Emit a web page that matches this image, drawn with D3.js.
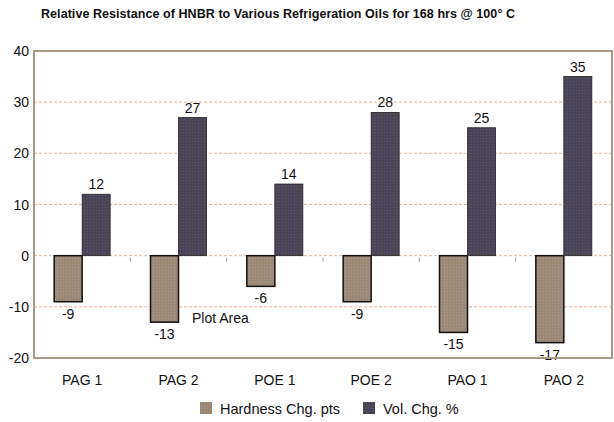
<!DOCTYPE html>
<html>
<head>
<meta charset="utf-8">
<script src="https://cdn.jsdelivr.net/npm/d3@7"></script>
<style>
  body { margin: 0; background: #fff; }
  text { font-family: "Liberation Sans", Arial, sans-serif; fill: #111; }
</style>
</head>
<body>
<div id="viz-wrapper"></div>
<script>
let categories = ["PAG 1", "PAG 2", "POE 1", "POE 2", "PAO 1", "PAO 2"];
let seriesNames = ["Hardness Chg. pts", "Vol. Chg. %"];
let hardness = [-9, -13, -6, -9, -15, -17];
let volume = [12, 27, 14, 28, 25, 35];
let yTicks = [-20, -10, 0, 10, 20, 30, 40];

let width = 614, height = 422;
let plot = {left: 34, right: 612, top: 51, bottom: 358};
let colors = ["#9a8878", "#4a4556"];

let svg = d3.select("#viz-wrapper").append("svg")
  .attr("width", width)
  .attr("height", height);

// dotted textures for the bars
let defs = svg.append("defs");
colors.forEach(function(c, i) {
  let p = defs.append("pattern")
    .attr("id", "tex" + i)
    .attr("width", 3).attr("height", 3)
    .attr("patternUnits", "userSpaceOnUse");
  p.append("rect").attr("width", 3).attr("height", 3).attr("fill", c);
  p.append("rect").attr("width", 1).attr("height", 1)
    .attr("fill", i == 0 ? "#b09a86" : "#5e566a");
});

let xScale = d3.scaleBand().domain(categories).range([plot.left, plot.right]);
let yScale = d3.scaleLinear().domain([-20, 40]).range([plot.bottom, plot.top]);

// title
svg.append("text")
  .attr("x", 278).attr("y", 18)
  .attr("text-anchor", "middle")
  .attr("textLength", 474)
  .style("font-size", "12.5px").style("font-weight", "bold")
  .text("Relative Resistance of HNBR to Various Refrigeration Oils for 168 hrs @ 100° C");

// gridlines
svg.append("g").selectAll("line")
  .data(yTicks.filter(function(t) { return t > -20 && t < 40; }))
  .enter().append("line")
  .attr("x1", plot.left).attr("x2", plot.right)
  .attr("y1", function(d) { return yScale(d); })
  .attr("y2", function(d) { return yScale(d); })
  .attr("stroke", "#e2b89a").attr("stroke-width", 1)
  .attr("stroke-dasharray", "3,2");

// y labels
svg.append("g").selectAll("text")
  .data(yTicks).enter().append("text")
  .attr("x", 29)
  .attr("y", function(d) { return yScale(d) + 5; })
  .attr("text-anchor", "end")
  .style("font-size", "14px")
  .text(function(d) { return d; });

// small ticks at category boundaries on the zero line
svg.append("g").selectAll("line")
  .data(categories.slice(1)).enter().append("line")
  .attr("x1", function(d) { return xScale(d); })
  .attr("x2", function(d) { return xScale(d); })
  .attr("y1", yScale(0) + 2).attr("y2", yScale(0) + 6)
  .attr("stroke", "#999").attr("stroke-width", 1);

// bars
let barW = 28;
[hardness, volume].forEach(function(vals, s) {
  let g = svg.append("g");
  g.selectAll("rect")
    .data(vals).enter().append("rect")
    .attr("x", function(d, i) { return xScale(categories[i]) + xScale.bandwidth() / 2 - barW + s * barW; })
    .attr("y", function(d) { return yScale(Math.max(0, d)); })
    .attr("width", barW)
    .attr("height", function(d) { return Math.abs(yScale(d) - yScale(0)); })
    .attr("fill", "url(#tex" + s + ")")
    .attr("stroke", s == 0 ? "#111" : "#222")
    .attr("stroke-width", s == 0 ? 1.5 : 0.8);
  g.selectAll("text")
    .data(vals).enter().append("text")
    .attr("x", function(d, i) { return xScale(categories[i]) + xScale.bandwidth() / 2 - barW / 2 + s * barW; })
    .attr("y", function(d) { return d >= 0 ? yScale(d) - 5 : yScale(d) + 17; })
    .attr("text-anchor", "middle")
    .style("font-size", "14px")
    .text(function(d) { return d; });
});

// plot frame
svg.append("rect")
  .attr("x", plot.left).attr("y", plot.top)
  .attr("width", plot.right - plot.left)
  .attr("height", plot.bottom - plot.top)
  .attr("fill", "none")
  .attr("stroke", "#a89888").attr("stroke-width", 2);

// leftover "Plot Area" tooltip text
svg.append("text")
  .attr("x", 192).attr("y", 323)
  .style("font-size", "14px")
  .text("Plot Area");

// category labels
svg.append("g").selectAll("text")
  .data(categories).enter().append("text")
  .attr("x", function(d) { return xScale(d) + xScale.bandwidth() / 2; })
  .attr("y", 385)
  .attr("text-anchor", "middle")
  .style("font-size", "14px")
  .text(function(d) { return d; });

// legend
let legendX = [200, 363];
seriesNames.forEach(function(name, i) {
  svg.append("rect")
    .attr("x", legendX[i]).attr("y", 402)
    .attr("width", 12).attr("height", 12)
    .attr("fill", "url(#tex" + i + ")");
  svg.append("text")
    .attr("x", legendX[i] + 20).attr("y", 414)
    .style("font-size", "14.5px")
    .text(name);
});
</script>
</body>
</html>
